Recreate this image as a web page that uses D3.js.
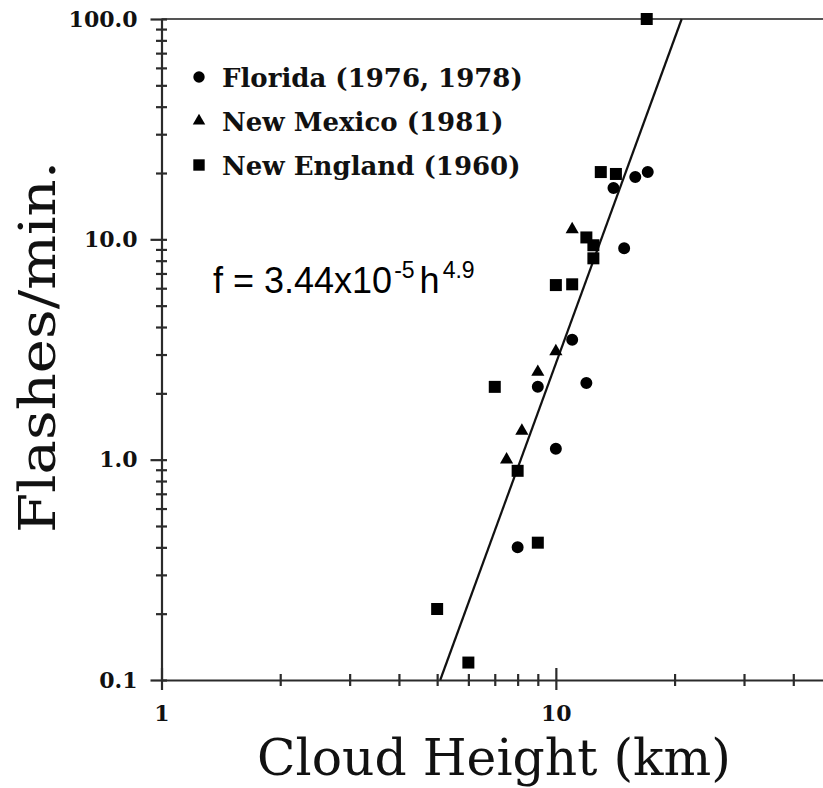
<!DOCTYPE html>
<html>
<head>
<meta charset="utf-8">
<script src="https://cdn.jsdelivr.net/npm/d3@7"></script>
<style>
  html, body { margin: 0; padding: 0; background: #fff; }
  svg { display: block; }
</style>
</head>
<body>
<svg id="chart" width="823" height="788"></svg>
<script>
// Cloud-top height (km) and flash rate (flashes/min) for each storm
const floridaHeight     = [17.1, 15.9, 14.0, 14.9, 11.0, 11.95, 9.0, 10.0, 8.0];
const floridaFlashes    = [20.2, 19.2, 17.1, 9.1, 3.5, 2.23, 2.14, 1.12, 0.40];
const newMexicoHeight   = [11.0, 10.0, 9.0, 8.2, 7.5];
const newMexicoFlashes  = [11.1, 3.1, 2.5, 1.35, 1.0];
const newEnglandHeight  = [17.0, 13.0, 14.2, 11.95, 12.45, 12.45, 10.0, 11.0, 7.0, 8.0, 9.0, 5.0, 6.0];
const newEnglandFlashes = [100, 20.2, 19.8, 10.2, 9.4, 8.2, 6.2, 6.25, 2.14, 0.89, 0.42, 0.21, 0.12];
const seriesNames = ["Florida (1976, 1978)", "New Mexico (1981)", "New England (1960)"];

// Fitted power law f = a * h^b
const fitCoefficient = 3.44e-5;
const fitExponent = 4.9;

const xTickValues = [1, 10];
const xTickLabels = ["1", "10"];
const xMinorTicks = [2, 3, 4, 5, 6, 7, 8, 9, 20, 30, 40];
const yTickValues = [0.1, 1, 10, 100];
const yTickLabels = ["0.1", "1.0", "10.0", "100.0"];
const yMinorTicks = [0.2, 0.3, 0.4, 0.5, 0.6, 0.7, 0.8, 0.9,
                     2, 3, 4, 5, 6, 7, 8, 9,
                     20, 30, 40, 50, 60, 70, 80, 90];

const svg = d3.select("#chart");
const serif = "'DejaVu Serif', 'Liberation Serif', serif";
const sans = "'Liberation Sans', Arial, sans-serif";
const axisColor = "#2b2b2b";

const x = d3.scaleLog().domain([1, 50]).range([161.5, 831.5]);
const y = d3.scaleLog().domain([0.1, 100]).range([680, 19]);

// top frame line
svg.append("line")
  .attr("x1", x(1)).attr("x2", x(50))
  .attr("y1", y(100)).attr("y2", y(100))
  .attr("stroke", "#555").attr("stroke-width", 2);

// ---- y axis ----
const gyMinor = svg.append("g")
  .attr("transform", `translate(${x(1)},0)`)
  .call(d3.axisLeft(y).tickValues(yMinorTicks).tickFormat("").tickSize(5.5));
gyMinor.select(".domain").remove();
gyMinor.selectAll(".tick line").attr("x1", 5.5);

const gy = svg.append("g")
  .attr("transform", `translate(${x(1)},0)`)
  .call(d3.axisLeft(y)
    .tickValues(yTickValues)
    .tickFormat((d, i) => yTickLabels[i])
    .tickSizeInner(11).tickSizeOuter(0).tickPadding(13));
gy.selectAll(".tick line").attr("x1", 5.5);

// ---- x axis ----
const gxMinor = svg.append("g")
  .attr("transform", `translate(0,${y(0.1)})`)
  .call(d3.axisBottom(x).tickValues(xMinorTicks).tickFormat("").tickSize(6));
gxMinor.select(".domain").remove();
gxMinor.selectAll(".tick line").attr("y1", -6);

const gx = svg.append("g")
  .attr("transform", `translate(0,${y(0.1)})`)
  .call(d3.axisBottom(x)
    .tickValues(xTickValues)
    .tickFormat((d, i) => xTickLabels[i])
    .tickSizeInner(10).tickSizeOuter(0).tickPadding(15));
gx.selectAll(".tick line").attr("y1", -12);

[gy, gyMinor, gx, gxMinor].forEach(g => {
  g.selectAll("path, line").attr("stroke", axisColor).attr("stroke-width", 2.2);
  g.selectAll("text")
    .attr("fill", "#111")
    .attr("font-family", serif)
    .attr("font-weight", "bold")
    .attr("font-size", 22);
});

// ---- axis titles ----
svg.append("text")
  .attr("transform", `translate(55,347) rotate(-90)`)
  .attr("text-anchor", "middle")
  .attr("font-family", serif)
  .attr("font-size", 50)
  .attr("fill", "#111")
  .attr("textLength", 372)
  .attr("lengthAdjust", "spacingAndGlyphs")
  .text("Flashes/min.");

svg.append("text")
  .attr("x", 494).attr("y", 775)
  .attr("text-anchor", "middle")
  .attr("font-family", serif)
  .attr("font-size", 50)
  .attr("fill", "#111")
  .attr("textLength", 474)
  .attr("lengthAdjust", "spacingAndGlyphs")
  .text("Cloud Height (km)");

// ---- fitted line, clipped to the y range ----
const [fLow, fHigh] = y.domain();
const fitPoints = [fLow, fHigh].map(f => [Math.pow(f / fitCoefficient, 1 / fitExponent), f]);
svg.append("path")
  .attr("d", d3.line().x(d => x(d[0])).y(d => y(d[1]))(fitPoints))
  .attr("fill", "none")
  .attr("stroke", "#111")
  .attr("stroke-width", 2.2);

// ---- data points ----
const series = [
  { name: seriesNames[0], h: floridaHeight, f: floridaFlashes, symbol: d3.symbolCircle, size: 113 },
  { name: seriesNames[1], h: newMexicoHeight, f: newMexicoFlashes, symbol: d3.symbolTriangle, size: 75 },
  { name: seriesNames[2], h: newEnglandHeight, f: newEnglandFlashes, symbol: d3.symbolSquare, size: 144 }
];

series.forEach(s => {
  const pts = s.h.map((h, i) => [h, s.f[i]]);
  svg.append("g").selectAll("path")
    .data(pts)
    .join("path")
    .attr("transform", d => `translate(${x(d[0])},${y(d[1])})`)
    .attr("d", d3.symbol().type(s.symbol).size(s.size))
    .attr("fill", "#000");
});

// ---- legend ----
const legendRows = [77, 121, 165];
const legend = svg.append("g");
series.forEach((s, i) => {
  legend.append("path")
    .attr("transform", `translate(199,${legendRows[i]})`)
    .attr("d", d3.symbol().type(s.symbol).size(s.size * 0.9))
    .attr("fill", "#000");
  legend.append("text")
    .attr("x", 222).attr("y", legendRows[i] + 10)
    .attr("font-family", serif)
    .attr("font-weight", "bold")
    .attr("font-size", 26)
    .attr("fill", "#111")
    .text(s.name);
});

// ---- fit equation ----
const eq = svg.append("text")
  .attr("x", 213).attr("y", 293)
  .attr("font-family", sans)
  .attr("font-size", 36)
  .attr("fill", "#000");
eq.append("tspan").text("f = " + (fitCoefficient / 1e-5).toFixed(2) + "x10");
eq.append("tspan").attr("dx", 2).attr("dy", -15).attr("font-size", 23).text("-5");
eq.append("tspan").attr("dx", 5).attr("dy", 15).text("h");
eq.append("tspan").attr("dx", 3).attr("dy", -15).attr("font-size", 23).text(String(fitExponent));
</script>
</body>
</html>
